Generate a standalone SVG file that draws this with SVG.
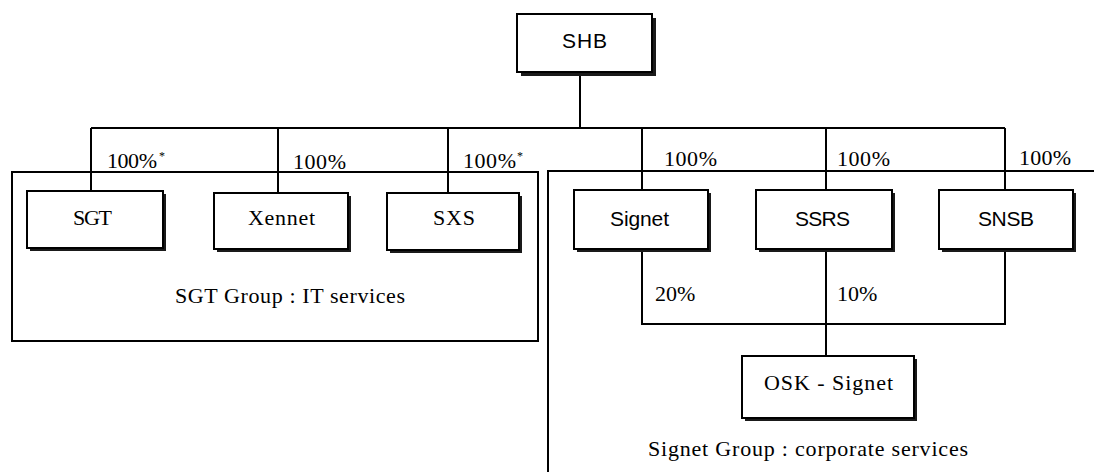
<svg xmlns="http://www.w3.org/2000/svg" width="1094" height="472" viewBox="0 0 1094 472">
<style>
.bg{fill:#ffffff}
.box{fill:#ffffff;stroke:#000;stroke-width:2}
.shadow{fill:#1a1a1a}
.grp{fill:none;stroke:#000;stroke-width:2}
.ln{fill:none;stroke:#000;stroke-width:2}
.serif{font-family:"Liberation Serif","Times New Roman",serif;font-size:22px;fill:#000}
.sans{font-family:"Liberation Sans",Arial,sans-serif;font-size:21px;fill:#000}
.sup{font-size:12px}
</style>
<rect class="bg" x="0" y="0" width="1094" height="472"/>

<g id="group-sgt">
  <rect class="grp" x="12" y="172" width="526" height="169"/>
  <text class="serif" x="175" y="303" textLength="230" lengthAdjust="spacing">SGT Group : IT services</text>
</g>
<g id="group-signet">
  <path class="grp" d="M548,472 L548,171 L1094,171"/>
  <text class="serif" x="648" y="456" textLength="320" lengthAdjust="spacing">Signet Group : corporate services</text>
</g>

<g id="connectors">
  <path class="ln" d="M580,72 L580,128"/>
  <path class="ln" d="M91,128 L1005,128"/>
  <path class="ln" d="M91,128 L91,191"/>
  <path class="ln" d="M278,128 L278,193"/>
  <path class="ln" d="M448,128 L448,193"/>
  <path class="ln" d="M642,128 L642,190"/>
  <path class="ln" d="M826,128 L826,190"/>
  <path class="ln" d="M1005,128 L1005,190"/>
  <path class="ln" d="M642,249 L642,324 L1005,324 L1005,249"/>
  <path class="ln" d="M826,249 L826,356"/>
  <text class="serif" x="107" y="168" textLength="50" lengthAdjust="spacing">100%</text>
  <text class="serif sup" x="159" y="160">*</text>
  <text class="serif" x="293" y="169" textLength="53" lengthAdjust="spacing">100%</text>
  <text class="serif" x="463" y="168" textLength="53" lengthAdjust="spacing">100%</text>
  <text class="serif sup" x="517" y="160">*</text>
  <text class="serif" x="664" y="166" textLength="53" lengthAdjust="spacing">100%</text>
  <text class="serif" x="837" y="166" textLength="53" lengthAdjust="spacing">100%</text>
  <text class="serif" x="1019" y="165" textLength="52" lengthAdjust="spacing">100%</text>
  <text class="serif" x="655" y="301">20%</text>
  <text class="serif" x="837" y="301">10%</text>
</g>

<g id="node-shb">
  <rect class="shadow" x="521" y="18" width="135" height="58"/>
  <rect class="box" x="517" y="14" width="135" height="58"/>
  <text class="sans" x="562" y="48" textLength="45" lengthAdjust="spacing">SHB</text>
</g>
<g id="node-sgt">
  <rect class="shadow" x="30" y="194" width="136" height="57"/>
  <rect class="box" x="27" y="191" width="136" height="57"/>
  <text class="serif" x="73" y="225" textLength="39" lengthAdjust="spacing">SGT</text>
</g>
<g id="node-xennet">
  <rect class="shadow" x="217" y="196" width="134" height="56"/>
  <rect class="box" x="214" y="193" width="134" height="56"/>
  <text class="serif" x="248" y="225" textLength="67" lengthAdjust="spacing">Xennet</text>
</g>
<g id="node-sxs">
  <rect class="shadow" x="390" y="196" width="132" height="57"/>
  <rect class="box" x="387" y="193" width="132" height="57"/>
  <text class="serif" x="433" y="225" textLength="42" lengthAdjust="spacing">SXS</text>
</g>
<g id="node-signet">
  <rect class="shadow" x="577" y="193" width="134" height="59"/>
  <rect class="box" x="574" y="190" width="134" height="59"/>
  <text class="sans" x="610" y="226" textLength="59" lengthAdjust="spacing">Signet</text>
</g>
<g id="node-ssrs">
  <rect class="shadow" x="759" y="193" width="136" height="59"/>
  <rect class="box" x="756" y="190" width="136" height="59"/>
  <text class="sans" x="795" y="226" textLength="55" lengthAdjust="spacing">SSRS</text>
</g>
<g id="node-snsb">
  <rect class="shadow" x="942" y="193" width="134" height="59"/>
  <rect class="box" x="939" y="190" width="134" height="59"/>
  <text class="sans" x="978" y="226" textLength="56" lengthAdjust="spacing">SNSB</text>
</g>
<g id="node-osk">
  <rect class="shadow" x="745" y="359" width="172" height="62"/>
  <rect class="box" x="742" y="356" width="172" height="62"/>
  <text class="serif" x="764" y="390" textLength="129" lengthAdjust="spacing">OSK - Signet</text>
</g>
</svg>
